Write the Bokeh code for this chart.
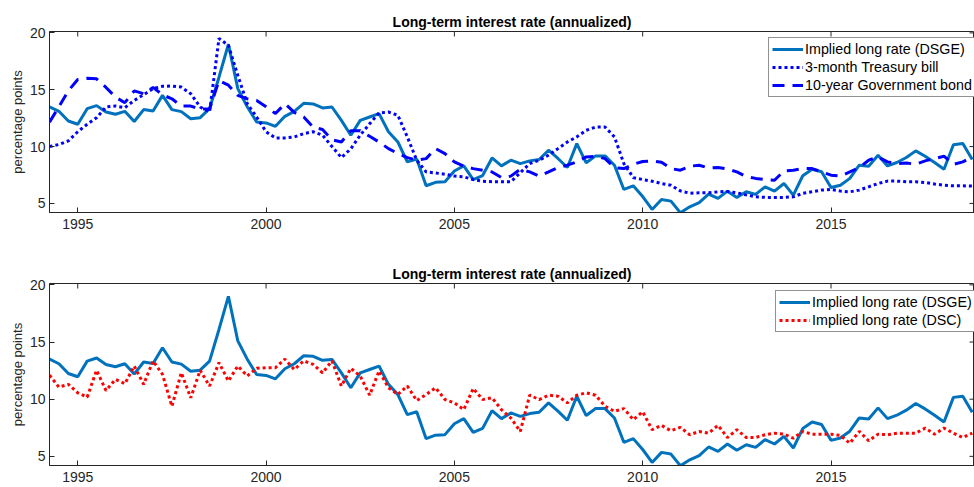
import math
from bokeh.plotting import figure
from bokeh.layouts import column
from bokeh.models import Range1d, FixedTicker, Legend, LegendItem
from bokeh.embed import file_html
from bokeh.resources import INLINE

# ---------------- data (quarterly, first quarter at 1994.25) ----------------
start_year = 1994.25

dsge = [13.5, 13.1, 12.25, 11.96, 13.33, 13.6, 13.04, 12.84, 13.1, 12.2,
        13.25, 13.13, 14.5, 13.25, 13.07, 12.45, 12.54, 13.33, 16.1, 19.0,
        15.1, 13.5, 12.16, 12.08, 11.78, 12.66, 13.1, 13.8, 13.75, 13.4,
        13.48, 12.3, 11.0, 12.3, 12.6, 12.9, 11.3, 10.4, 8.65, 8.9,
        6.55, 6.85, 6.9, 7.85, 8.3, 7.1, 7.45, 9.0, 8.3, 8.8,
        8.5, 8.74, 8.86, 9.68, 8.95, 8.16, 10.26, 8.57, 9.18, 9.18,
        8.36, 6.23, 6.55, 5.6, 4.47, 5.35, 5.2, 4.18, 4.7, 5.06,
        5.82, 5.44, 6.08, 5.53, 6.02, 5.79, 6.46, 6.08, 6.75, 5.73,
        7.43, 8.0, 7.78, 6.4, 6.6, 7.2, 8.36, 8.27, 9.24, 8.3,
        8.6, 9.04, 9.62, 9.15, 8.6, 8.0, 10.16, 10.26, 8.86]

tbill = [10.0, 10.18, 10.5, 11.3, 11.96, 12.54, 13.48, 13.57, 13.42, 14.06,
         14.56, 15.1, 15.3, 15.32, 15.23, 14.65, 13.48, 13.04, 19.5, 18.9,
         16.26, 13.77, 12.6, 11.3, 10.76, 10.76, 10.85, 11.14, 11.3, 11.0,
         10.0, 9.03, 9.8, 11.0, 12.0, 12.95, 13.04, 12.75, 10.85, 8.8,
         7.77, 7.68, 7.57, 7.4, 7.33, 7.1, 6.95, 6.9, 6.9, 6.9,
         7.7, 8.5, 8.8, 9.24, 9.82, 10.4, 10.85, 11.43, 11.72, 11.72,
         10.85, 8.5, 7.27, 7.1, 6.95, 6.75, 6.6, 6.1, 5.9, 5.93,
         5.93, 6.02, 6.05, 5.93, 5.75, 5.58, 5.53, 5.53, 5.53, 5.58,
         5.88, 6.02, 6.17, 6.23, 6.08, 6.02, 6.17, 6.46, 6.75, 6.96,
         6.96, 6.9, 6.9, 6.84, 6.7, 6.6, 6.55, 6.55, 6.52]

bond10 = [12.15, 13.5, 14.9, 15.9, 16.0, 15.96, 15.2, 14.35, 13.86, 14.9,
          14.64, 15.2, 14.55, 14.2, 13.56, 13.56, 13.3, 13.3, 15.8, 15.4,
          14.5, 14.2, 14.06, 13.5, 12.9, 13.77, 13.0, 12.6, 11.7, 11.5,
          10.6, 10.4, 11.4, 11.4, 10.9, 10.4, 9.82, 9.38, 9.03, 8.8,
          8.94, 9.82, 9.38, 8.65, 8.27, 8.06, 7.92, 7.77, 7.27, 7.4,
          8.0, 7.77, 7.4, 7.77, 8.15, 8.36, 8.65, 9.09, 9.15, 8.94,
          8.15, 8.06, 8.44, 8.68, 8.74, 8.62, 8.06, 7.92, 8.27, 8.36,
          8.12, 8.15, 8.03, 7.77, 7.35, 7.2, 7.1, 7.04, 7.86, 7.92,
          8.06, 8.06, 7.77, 7.48, 7.4, 7.77, 8.15, 8.8, 9.09, 8.65,
          8.5, 8.56, 8.44, 8.74, 8.94, 9.15, 8.44, 8.65, 9.09]

dsc = [12.1, 11.06, 11.3, 10.56, 10.18, 12.53, 10.76, 11.73, 11.35, 12.9,
       11.3, 13.35, 12.17, 9.38, 12.32, 10.12, 12.53, 11.15, 13.2, 11.59,
       12.9, 12.03, 12.7, 12.76, 12.76, 13.5, 12.6, 13.35, 13.05, 12.3,
       13.35, 11.15, 12.7, 12.03, 10.35, 12.47, 11.0, 10.41, 11.15, 9.88,
       10.41, 11.0, 9.97, 9.68, 9.09, 10.94, 9.97, 10.12, 9.09, 8.35,
       7.18, 10.35, 9.97, 10.35, 10.26, 9.68, 10.35, 10.56, 10.35, 9.38,
       8.94, 9.18, 8.21, 8.9, 7.33, 7.71, 7.24, 7.53, 6.89, 7.18,
       7.03, 7.71, 6.65, 7.33, 6.65, 6.65, 6.89, 7.03, 6.94, 6.59,
       7.18, 6.94, 6.94, 6.94, 6.83, 6.15, 7.18, 6.36, 6.94, 6.89,
       7.03, 7.03, 7.03, 7.47, 6.94, 7.47, 7.03, 6.65, 7.03]

year_ticks = [1995, 2000, 2005, 2010, 2015]
value_ticks = [5, 10, 15, 20]
x_limits = (1994.25, 2018.81)
y_limits = (4.2, 20.12)
title_text = "Long-term interest rate (annualized)"
y_label = "percentage points"
lbl_dsge = "Implied long rate (DSGE)"
lbl_tbill = "3-month Treasury bill"
lbl_bond = "10-year Government bond"
lbl_dsc = "Implied long rate (DSC)"

x = [start_year + 0.25 * k for k in range(len(dsge))]

# ---------------- styling ----------------
FONT = "Liberation Sans"
AX = "#262626"
C_DSGE = "#0072BD"
C_BLUE = "#0000FF"
C_RED = "#FF0000"


def make_fig(height, top, bottom):
    p = figure(width=974, height=height, output_backend="svg", toolbar_location=None,
               x_range=Range1d(*x_limits), y_range=Range1d(*y_limits),
               min_border_left=49, min_border_right=0, min_border_top=top,
               min_border_bottom=bottom, title=title_text)
    p.title.align = "center"
    p.title.text_font = FONT
    p.title.text_font_size = "14px"
    p.title.text_font_style = "bold"
    p.title.text_color = "#000000"
    p.title.standoff = 3
    p.grid.visible = False
    p.outline_line_color = AX
    p.outline_line_width = 1
    p.background_fill_color = "white"
    p.border_fill_color = "white"

    for ax in (p.xaxis[0], p.yaxis[0]):
        ax.major_tick_in = 5
        ax.major_tick_out = 0
        ax.minor_tick_line_color = None
        ax.axis_line_color = AX
        ax.major_tick_line_color = AX
        ax.major_label_text_font = FONT
        ax.major_label_text_font_size = "14px"
        ax.major_label_text_color = AX
    p.xaxis[0].ticker = FixedTicker(ticks=year_ticks)
    p.xaxis[0].major_label_standoff = 6
    p.yaxis[0].ticker = FixedTicker(ticks=value_ticks)
    p.yaxis[0].major_label_standoff = 4
    p.yaxis[0].axis_label = y_label
    p.yaxis[0].axis_label_text_font = FONT
    p.yaxis[0].axis_label_text_font_size = "13px"
    p.yaxis[0].axis_label_text_font_style = "normal"
    p.yaxis[0].axis_label_text_color = AX
    p.yaxis[0].axis_label_standoff = 2

    # MATLAB-style box ticks on the top and right edges (clipped to the frame)
    p.scatter(x=year_ticks, y=[y_limits[1]] * len(year_ticks), marker="dash",
              size=10, angle=math.pi / 2, line_color=AX, line_width=1)
    p.scatter(x=[x_limits[1]] * len(value_ticks), y=value_ticks, marker="dash",
              size=10, line_color=AX, line_width=1)
    return p


def style_legend(lg):
    lg.label_text_font = FONT
    lg.label_text_font_size = "14.3px"
    lg.label_text_color = "#000000"
    lg.border_line_color = AX
    lg.border_line_width = 1
    lg.background_fill_alpha = 1.0
    lg.glyph_width = 31
    lg.glyph_height = 16
    lg.label_height = 16
    lg.label_standoff = 2
    lg.spacing = 2
    lg.padding = 3
    lg.margin = 0


# ---------------- top panel ----------------
p1 = make_fig(245, 31, 33)
r1 = p1.line(x, dsge, line_color=C_DSGE, line_width=3)
r2 = p1.line(x, tbill, line_color=C_BLUE, line_width=3, line_dash="3 3")
r3 = p1.line(x, bond10, line_color=C_BLUE, line_width=3, line_dash="12 8")
lg1 = Legend(items=[LegendItem(label=lbl_dsge, renderers=[r1]),
                    LegendItem(label=lbl_tbill, renderers=[r2]),
                    LegendItem(label=lbl_bond, renderers=[r3])],
             location=(719, 115))
style_legend(lg1)
p1.add_layout(lg1)

# ---------------- bottom panel ----------------
p2 = make_fig(242, 38, 22)
s1 = p2.line(x, dsge, line_color=C_DSGE, line_width=3)
s2 = p2.line(x, dsc, line_color=C_RED, line_width=3, line_dash="3 3")
lg2 = Legend(items=[LegendItem(label=lbl_dsge, renderers=[s1]),
                    LegendItem(label=lbl_dsc, renderers=[s2])],
             location=(726, 133))
style_legend(lg2)
p2.add_layout(lg2)

layout = column(p1, p2, spacing=0)
open("out.html", "w").write(file_html(layout, INLINE))
